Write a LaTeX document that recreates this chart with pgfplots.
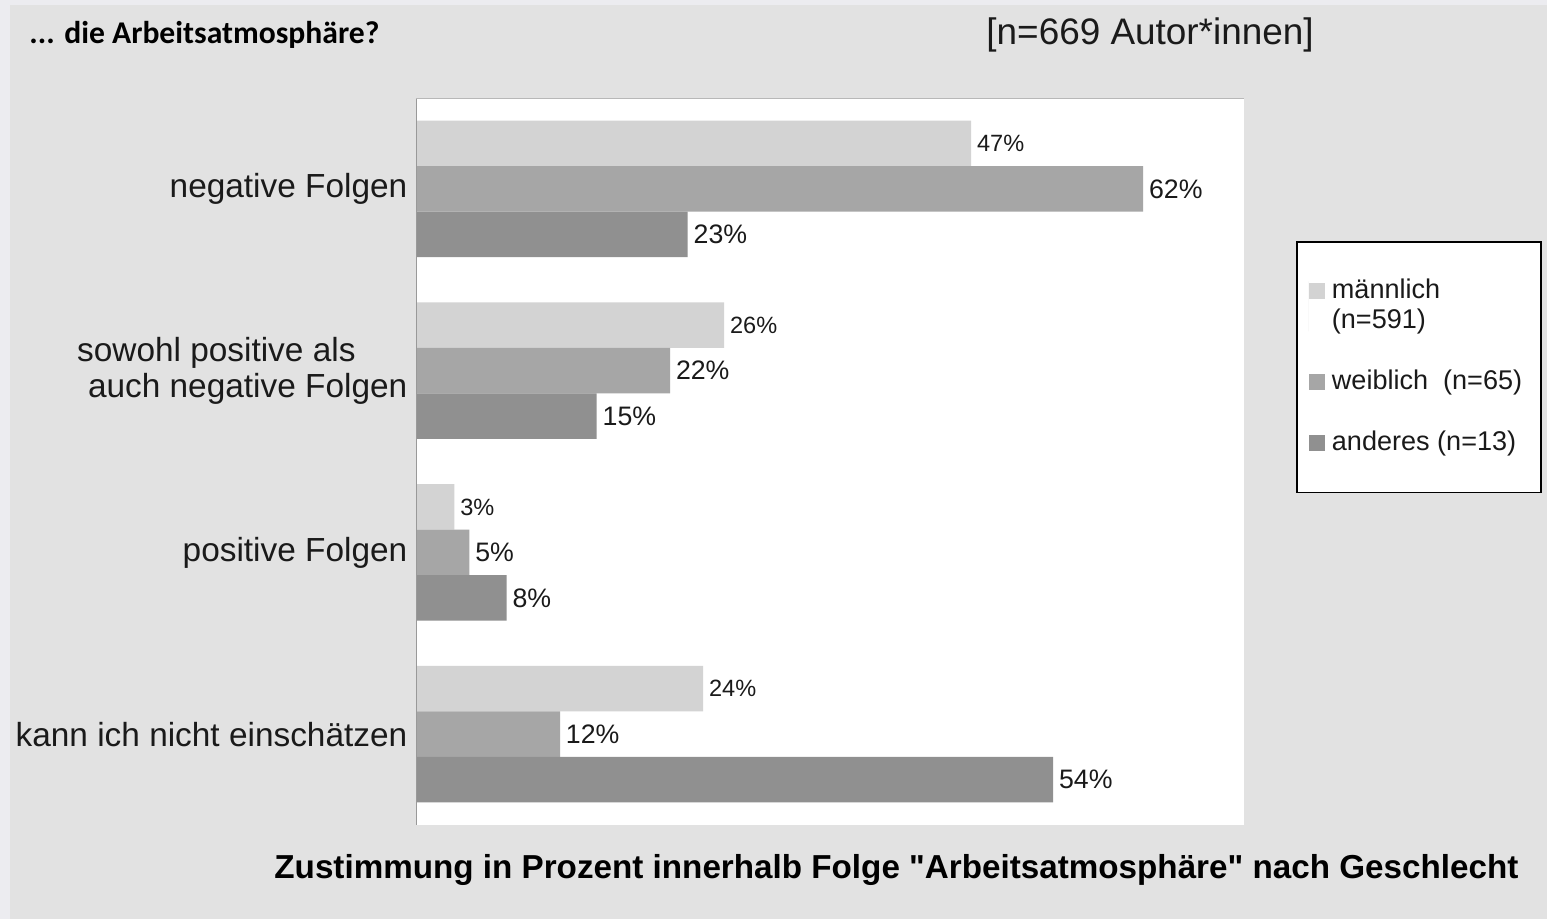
\documentclass[border=0pt]{standalone}
\usepackage{fontspec}
\setmainfont{Liberation Sans}[Ligatures=TeXOff]
\newfontfamily\calibri{Carlito}
\usepackage{pgfplots}
\pgfplotsset{compat=1.18}

\definecolor{bgouter}{HTML}{ECECF0}
\definecolor{bginner}{HTML}{E2E2E2}
\definecolor{cmale}{HTML}{D3D3D3}
\definecolor{cfemale}{HTML}{A6A6A6}
\definecolor{cother}{HTML}{909090}
\definecolor{txt}{HTML}{1A1A1A}

\begin{document}
\begin{tikzpicture}
\useasboundingbox (0cm,0cm) rectangle (15.47cm,-9.19cm);
\fill[bgouter] (0cm,0cm) rectangle (15.47cm,-9.19cm);
\fill[bginner] (0.10cm,-0.05cm) rectangle (15.47cm,-9.19cm);

% headings
\node[anchor=west, text=black, font=\calibri\bfseries\fontsize{9}{11}\selectfont] at (0.17cm,-0.35cm) {... die Arbeitsatmosphäre?};
\node[anchor=west, text=txt, font=\fontsize{10.5}{12}\selectfont] at (9.74cm,-0.35cm) {[n=669 Autor*innen]};
\node[anchor=west, text=black, font=\bfseries\fontsize{9.45}{11}\selectfont] at (2.62cm,-8.70cm) {Zustimmung in Prozent innerhalb Folge "Arbeitsatmosphäre" nach Geschlecht};

\begin{axis}[
    scale only axis,
    width=8.28cm, height=7.27cm,
    at={(4.16cm,-8.25cm)}, anchor=south west,
    xbar, bar width=0.25,
    xmin=0, xmax=70.6,
    ymin=-0.5, ymax=3.5, y dir=reverse,
    xtick=\empty,
    ytick={0,1,2,3},
    yticklabels={negative Folgen, {sowohl positive als\hspace*{1.55em}\\auch negative Folgen}, positive Folgen, kann ich nicht einschätzen},
    y tick label style={font=\fontsize{9.5}{10.2}\selectfont, text=txt, align=right, inner sep=0pt, xshift=-0.08cm},
    major tick length=0pt,
    axis background/.style={fill=white},
    axis line style={draw=none},
    point meta=explicit symbolic,
    nodes near coords={\pgfplotspointmeta\%},
    every node near coord/.append style={anchor=west, text=txt, inner sep=1.5pt},
    legend style={at={(1.0628,0.8033)}, anchor=north west, draw=black, line width=0.5pt,
        fill=white, font=\fontsize{7.7}{8.5}\selectfont, text=txt,
        inner xsep=0.12cm, inner ysep=0.3cm, row sep=0.22cm,
        cells={anchor=west, align=left}},
    legend image code/.code={\fill[#1] (0cm,-0.08cm) rectangle (0.16cm,0.08cm);},
]
% bar lengths, labels as printed
\addplot[fill=cmale, draw=none, bar shift=-0.25,
    every node near coord/.append style={font=\fontsize{6.7}{8}\selectfont},
    legend image code/.code={\path (0cm,-0.25cm) -- (0cm,0.25cm);
        \fill[cmale] (0cm,0.07cm) rectangle (0.16cm,0.23cm);}]
    coordinates {(47.33,0) [47] (26.27,1) [26] (3.27,2) [3] (24.48,3) [24]};
\addlegendentry{männlich\\(n=591)}
\addplot[fill=cfemale, draw=none, bar shift=0,
    every node near coord/.append style={font=\fontsize{7.6}{9}\selectfont}]
    coordinates {(62.0,0) [62] (21.66,1) [22] (4.55,2) [5] (12.28,3) [12]};
\addlegendentry{weiblich\ \ (n=65)}
\addplot[fill=cother, draw=none, bar shift=0.25,
    every node near coord/.append style={font=\fontsize{7.6}{9}\selectfont}]
    coordinates {(23.17,0) [23] (15.41,1) [15] (7.73,2) [8] (54.32,3) [54]};
\addlegendentry{anderes (n=13)}

\draw[color=black!40, line width=0.6pt] (axis description cs:0,0) -- (axis description cs:0,1);
\draw[color=black!28, line width=0.6pt] (axis description cs:0,1) -- (axis description cs:1,1);
\end{axis}
\end{tikzpicture}
\end{document}
